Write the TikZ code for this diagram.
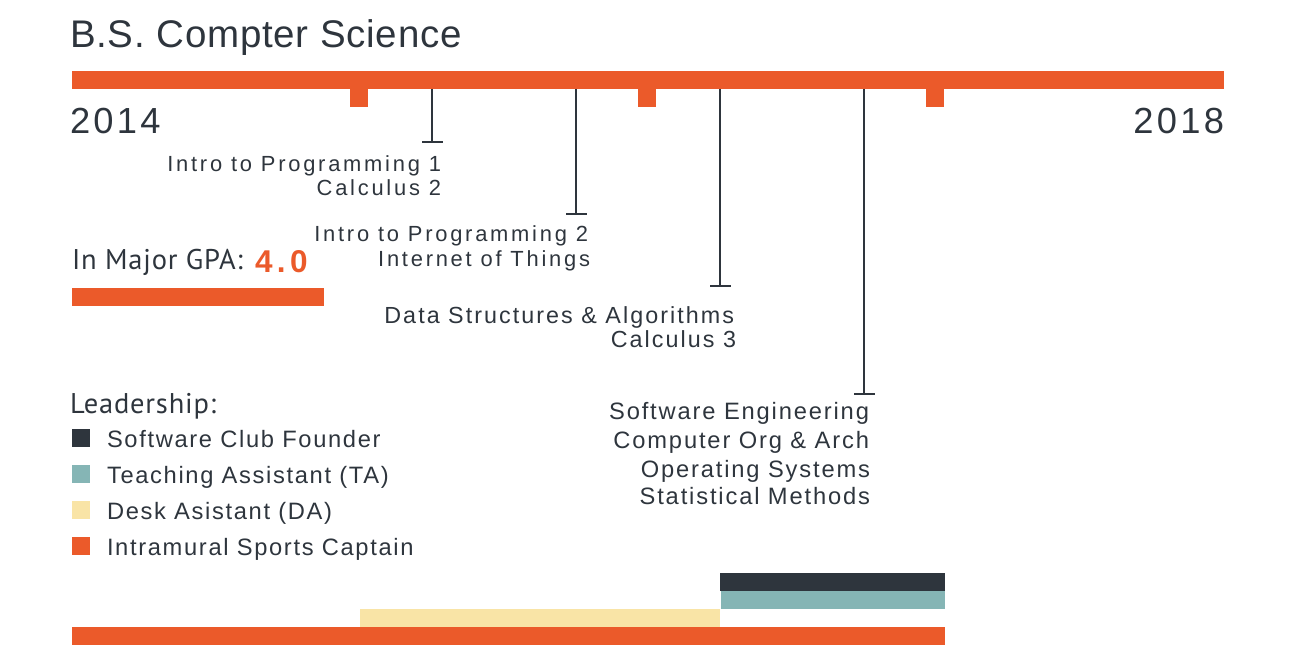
\documentclass[tikz,border=0pt]{standalone}
\usepackage{fontspec}
\usetikzlibrary{arrows.meta}
\setmainfont{Liberation Sans}
% text faces: a tracked grotesque for labels, a humanist face for headings
\newfontfamily\titlefont{Liberation Sans}[LetterSpace=2]
\newfontfamily\yearfont{Liberation Sans}[LetterSpace=9]
\newfontfamily\courseA{Liberation Sans}[LetterSpace=12.6]
\newfontfamily\courseB{Liberation Sans}[LetterSpace=8.8]
\newfontfamily\courseC{Liberation Sans}[LetterSpace=7.8]
\newfontfamily\legendfont{Liberation Sans}[LetterSpace=7]
\newfontfamily\gpafont{Liberation Sans}[LetterSpace=14]
\newfontfamily\headfont{PT Sans}[LetterSpace=2.8]

\definecolor{accent}{HTML}{EB5A2A}
\definecolor{ink}{HTML}{2E353D}
\definecolor{tealbar}{HTML}{85B5B5}
\definecolor{sand}{HTML}{F9E4A6}

\tikzset{
  txt/.style={inner sep=0pt, outer sep=0pt, text=ink},
  rtxt/.style={txt, anchor=base east},
  ltxt/.style={txt, anchor=base west},
  term/.style={draw=ink, line width=2pt, -{Bar[width=21pt]}},
  keybox/.style={inner sep=0pt, outer sep=0pt, minimum width=18pt, minimum height=18pt, anchor=north west},
}

\begin{document}
\begin{tikzpicture}[x=1pt, y=-1pt]
\useasboundingbox (0,0) rectangle (1300,658);

% title and main time axis
\node[ltxt, font=\titlefont\fontsize{38.5}{40}\selectfont] (title) at (70,48) {B.S. Compter Science};
\fill[accent] (72,71) rectangle (1224,89);
% year marks
\fill[accent] (350,89) rectangle (368,107);
\fill[accent] (638,89) rectangle (656,107);
\fill[accent] (926,89) rectangle (944,107);
\node[ltxt, font=\yearfont\fontsize{36.3}{38}\selectfont] (ystart) at (70,133) {2014};
\node[rtxt, font=\yearfont\fontsize{36.3}{38}\selectfont] (yend) at (1224,133) {2018};

% semester terms hanging from the axis
\coordinate (s1) at (432,89);  \coordinate (e1) at (432,143);
\coordinate (s2) at (576,89);  \coordinate (e2) at (576,215);
\coordinate (s3) at (720,89);  \coordinate (e3) at (720,287);
\coordinate (s4) at (864,89);  \coordinate (e4) at (864,395);
\draw[term] (s1) -- (e1);
\draw[term] (s2) -- (e2);
\draw[term] (s3) -- (e3);
\draw[term] (s4) -- (e4);

\node[rtxt, font=\courseA\fontsize{21.9}{24}\selectfont] (c11) at (441,171) {Intro to Programming 1};
\node[rtxt, font=\courseA\fontsize{21.9}{24}\selectfont] (c12) at (441,195) {Calculus 2};
\node[rtxt, font=\courseA\fontsize{21.9}{24}\selectfont] (c21) at (588,241) {Intro to Programming 2};
\node[rtxt, font=\courseA\fontsize{21.9}{24}\selectfont] (c22) at (590,266) {Internet of Things};
\node[rtxt, font=\courseB\fontsize{23.3}{26}\selectfont] (c31) at (734,323) {Data Structures \& Algorithms};
\node[rtxt, font=\courseB\fontsize{23.3}{26}\selectfont] (c32) at (736,347) {Calculus 3};
\node[rtxt, font=\courseC\fontsize{23.7}{26}\selectfont] (c41) at (869,419) {Software Engineering};
\node[rtxt, font=\courseC\fontsize{23.7}{26}\selectfont] (c42) at (869,448) {Computer Org \& Arch};
\node[rtxt, font=\courseC\fontsize{23.7}{26}\selectfont] (c43) at (870,477) {Operating Systems};
\node[rtxt, font=\courseC\fontsize{23.7}{26}\selectfont] (c44) at (870,504) {Statistical Methods};

% grade point average
\node[ltxt, font=\headfont\fontsize{28.5}{30}\selectfont] (gpa) at (72,269) {In Major GPA:};
\node[ltxt, text=accent, font=\gpafont\bfseries\fontsize{31.5}{33}\selectfont] (gpaval) at (255,272.5) {4.0};
\fill[accent] (72,288) rectangle (324,306);

% leadership legend
\node[ltxt, font=\headfont\fontsize{28.5}{30}\selectfont] (lead) at (70,413) {Leadership:};
\node[keybox, fill=ink] (k1) at (72,429) {};
\node[keybox, fill=tealbar] (k2) at (72,465) {};
\node[keybox, fill=sand] (k3) at (72,501) {};
\node[keybox, fill=accent] (k4) at (72,537) {};
\node[ltxt, font=\legendfont\fontsize{23.7}{26}\selectfont] (l1) at (107,447) {Software Club Founder};
\node[ltxt, font=\legendfont\fontsize{23.7}{26}\selectfont] (l2) at (107,483) {Teaching Assistant (TA)};
\node[ltxt, font=\legendfont\fontsize{23.7}{26}\selectfont] (l3) at (107,519) {Desk Asistant (DA)};
\node[ltxt, font=\legendfont\fontsize{23.7}{26}\selectfont] (l4) at (107,555) {Intramural Sports Captain};

% leadership spans along the time axis
\fill[ink] (720,573) rectangle (945,591);
\fill[tealbar] (721,591) rectangle (945,609);
\fill[sand] (360,609) rectangle (720,627);
\fill[accent] (72,627) rectangle (945,645);
\end{tikzpicture}
\end{document}
